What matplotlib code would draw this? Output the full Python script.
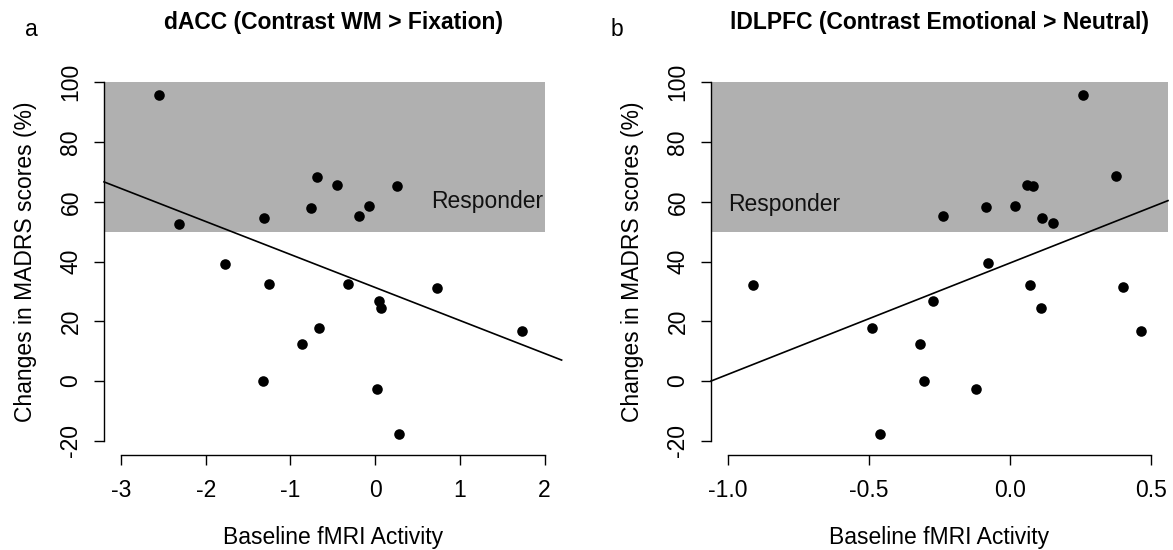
import matplotlib
matplotlib.use("Agg")
import matplotlib.pyplot as plt
import numpy as np

plt.rcParams['font.family'] = ['Liberation Sans', 'DejaVu Sans']
plt.rcParams['axes.unicode_minus'] = False

# Data
madrs_change = [95.8, 52.7, 39.3, 54.6, 32.3, 0.0, 12.5, 17.6, 58.0, 68.4, 65.5,
                55.2, 58.5, 32.3, 26.7, 24.4, -2.7, 65.3, -17.9, 31.1, 16.6]
dacc_activity = [-2.553, -2.314, -1.774, -1.314, -1.252, -1.319, -0.867, -0.668,
                 -0.761, -0.686, -0.451, -0.190, -0.071, -0.319, 0.044, 0.066,
                 0.018, 0.252, 0.279, 0.726, 1.735]

dlpfc_change = [32.2, 17.6, -17.8, 12.4, 0.0, 26.7, 55.2, -2.7, 58.1, 39.5, 58.7,
                65.6, 65.4, 32.2, 54.6, 24.5, 52.8, 95.9, 68.5, 31.3, 16.8]
dlpfc_activity = [-0.911, -0.489, -0.461, -0.318, -0.305, -0.274, -0.237, -0.121,
                  -0.086, -0.077, 0.017, 0.060, 0.082, 0.072, 0.113, 0.110, 0.153,
                  0.259, 0.374, 0.399, 0.465]

# fitted lines (intercept, slope)
fit_a = (31.3, -11.05)
fit_b = (39.5, 37.3)

titles = ["dACC (Contrast WM > Fixation)", "lDLPFC (Contrast Emotional > Neutral)"]
panel_labels = ["a", "b"]
x_ticks_a = [-3, -2, -1, 0, 1, 2]
x_ticks_b = [-1.0, -0.5, 0.0, 0.5]
x_tick_labels_b = ["-1.0", "-0.5", "0.0", "0.5"]
y_ticks = [-20, 0, 20, 40, 60, 80, 100]
responder_range = (50, 100)

fig = plt.figure(figsize=(11.73, 5.5), dpi=100)
gray = "#B0B0B0"

H = 550.0
W = 1173.0
ax_bottom = 1 - 455 / H
ax_height = (455 - 68) / H
axA = fig.add_axes([104 / W, ax_bottom, (561.6 - 104) / W, ax_height])
axB = fig.add_axes([711 / W, ax_bottom, (1168 - 711) / W, ax_height])

FS = 16.5

def style(ax, xlim, xticks, xbounds, xticklabels=None):
    ax.set_xlim(*xlim)
    ax.set_ylim(-24.8, 104.8)
    for s in ["top", "right"]:
        ax.spines[s].set_visible(False)
    ax.spines["left"].set_bounds(-20, 100)
    ax.spines["bottom"].set_bounds(*xbounds)
    ax.spines["left"].set_linewidth(1.0)
    ax.spines["bottom"].set_linewidth(1.0)
    ax.set_xticks(xticks)
    if xticklabels is not None:
        ax.set_xticklabels(xticklabels)
    ax.set_yticks(y_ticks)
    ax.set_yticklabels([str(v) for v in y_ticks], rotation=90, va="center")
    ax.tick_params(axis="both", labelsize=FS, length=7.5, width=1.0, direction="out")
    ax.tick_params(axis="x", pad=10)
    ax.tick_params(axis="y", pad=8)
    ax.set_xlabel("Baseline fMRI Activity", fontsize=FS, labelpad=17)
    ax.set_ylabel("Changes in MADRS scores (%)", fontsize=FS, labelpad=16)
    ax.patch.set_alpha(0)

# Panel a
style(axA, (-3.2, 2.2), x_ticks_a, (-3, 2))
axA.fill_between([-3.2, 2.0], responder_range[0], responder_range[1], color=gray, lw=0, zorder=0)
axA.scatter(dacc_activity, madrs_change, s=58, color="black", zorder=3, linewidths=0)
xs = np.array([-3.2, 2.2])
axA.plot(xs, fit_a[0] + fit_a[1] * xs, color="black", lw=1.2, zorder=2, clip_on=False)
axA.text(1.98, 60, "Responder", fontsize=FS, ha="right", va="center", color="#111111")

# Panel b
style(axB, (-1.06, 0.56), x_ticks_b, (-1.0, 0.5), x_tick_labels_b)
axB.fill_between([-1.06, 0.56], responder_range[0], responder_range[1], color=gray, lw=0, zorder=0)
axB.scatter(dlpfc_activity, dlpfc_change, s=58, color="black", zorder=3, linewidths=0)
xs = np.array([-1.06, 0.56])
axB.plot(xs, fit_b[0] + fit_b[1] * xs, color="black", lw=1.2, zorder=2, clip_on=False)
axB.text(-1.0, 59, "Responder", fontsize=FS, ha="left", va="center", color="#111111")

fig.text(333 / W, 1 - 22 / H, titles[0], fontsize=16.5, fontweight="bold", ha="center", va="center")
fig.text(940 / W, 1 - 22 / H, titles[1], fontsize=16.5, fontweight="bold", ha="center", va="center")

fig.text(31 / W, 1 - 30 / H, panel_labels[0], fontsize=FS, ha="center", va="center")
fig.text(617 / W, 1 - 30 / H, panel_labels[1], fontsize=FS, ha="center", va="center")

fig.savefig("out.png", dpi=100)
